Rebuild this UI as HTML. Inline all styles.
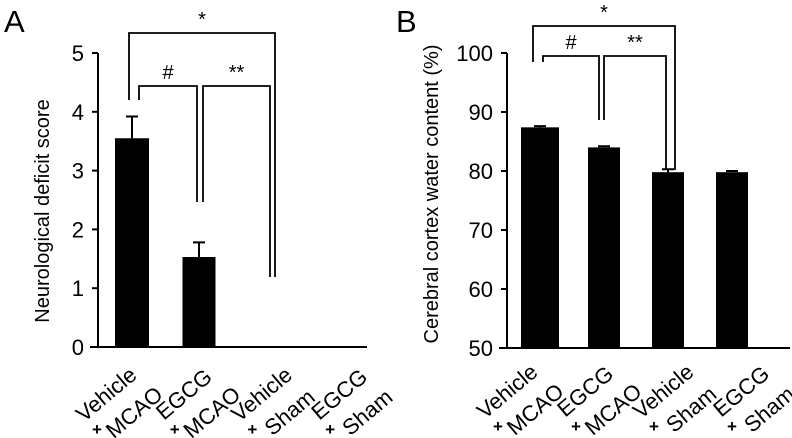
<!DOCTYPE html>
<html><head><meta charset="utf-8"><style>
html,body{margin:0;padding:0;background:#fff;}
svg{display:block;font-family:"Liberation Sans",Arial,sans-serif;}
</style></head><body>
<svg id="c" width="792" height="438" viewBox="0 0 792 438" xmlns="http://www.w3.org/2000/svg"></svg>
<script>
const categories = [["Vehicle","MCAO"],["EGCG","MCAO"],["Vehicle","Sham"],["EGCG","Sham"]];
const scoreValues = [3.55, 1.53, 0, 0];
const scoreErrors = [0.37, 0.25, 0, 0];
const waterValues = [87.4, 84.0, 79.8, 79.8];
const waterErrors = [0.2, 0.2, 0.5, 0.2];
const scoreTicks = [0,1,2,3,4,5];
const waterTicks = [50,60,70,80,90,100];

const NS = "http://www.w3.org/2000/svg";
const svg = document.getElementById('c');
function el(tag, attrs, parent, text){
  const e = document.createElementNS(NS, tag);
  for (const k in attrs) e.setAttribute(k, attrs[k]);
  if (text !== undefined) e.textContent = text;
  (parent || svg).appendChild(e);
  return e;
}

function panel(cfg){
  const g = el('g', {});
  
  
  const y = v => cfg.y0 - (v - cfg.vmin) / (cfg.vmax - cfg.vmin) * (cfg.y0 - cfg.y1);
  const x = i => cfg.c0 + i * cfg.step;
  const lx = i => cfg.l0 + i * cfg.lstep;
  const L = el('text', {x: cfg.letterX, y: 32, 'font-size': 31}, g, cfg.letter);
  
  
  const ya = el('line', {x1: cfg.ax, x2: cfg.ax, y1: y(cfg.vmin), y2: y(cfg.vmax), stroke: '#000', 'stroke-width': 2}, g);
  
  
  const xa = el('line', {x1: cfg.ax - 8, x2: cfg.xEnd, y1: y(cfg.vmin), y2: y(cfg.vmin), stroke: '#000', 'stroke-width': 2}, g);
  
  
  cfg.ticks.forEach(t => {
    const tl = el('line', {x1: cfg.ax - 6, x2: cfg.ax, y1: y(t), y2: y(t), stroke: '#000', 'stroke-width': 2}, g);
    
    
    const tt = el('text', {x: cfg.ax - 14, y: y(t) + 8, 'font-size': 22, 'text-anchor': 'end'}, g, t);
    
    
  });
  const yt = el('text', {transform: `translate(${cfg.titleX},${cfg.titleY}) rotate(-90)`, 'font-size': 20, 'text-anchor': 'middle'}, g, cfg.title);
  
  
  cfg.values.forEach((v, i) => {
    const cx = x(i), w = cfg.bw[i];
    if (v > cfg.vmin) {
      const top = y(v + cfg.errors[i]);
      const eb = el('path', {d: `M${cx} ${y(v)} V${top} M${cx-6} ${top} H${cx+6}`, stroke: '#000', 'stroke-width': 2, fill: 'none'}, g);
      
      
      const r = el('rect', {x: cx - w/2, y: y(v), width: w, height: y(cfg.vmin) - y(v), fill: '#000'}, g);
      
      
    }
    const px = lx(i), py = cfg.lblY;
    const lg = el('g', {'font-size': 22}, g);
    
    
    el('text', {transform: `translate(${px+14},${py-30}) rotate(-40)`, 'text-anchor': 'middle'}, lg, categories[i][0]);
    el('text', {transform: `translate(${px+42},${py-12}) rotate(-40)`, 'text-anchor': 'middle'}, lg, categories[i][1]);
    el('text', {x: px, y: py + 5, 'font-size': 17, 'font-weight': 'bold', 'text-anchor': 'middle'}, lg, '+');
  });
  cfg.brackets.forEach(b => {
    const p = el('path', {d: `M${b.x1} ${b.l1} V${b.y} H${b.x2} V${b.l2}`, stroke: '#000', 'stroke-width': 1.8, fill: 'none'}, g);
    
    
    const t = el('text', {x: (b.x1+b.x2)/2, y: b.y - 7, 'font-size': 20, 'text-anchor': 'middle'}, g, b.label);
    
    
  });
}

panel({name: 'panel-a', letter: 'A', letterX: 4, ax: 98, xEnd: 367, vmin: 0, vmax: 5, y0: 347, y1: 53,
  c0: 132, step: 67, l0: 97, lstep: 77.7, bw: [34,33,34,34], values: scoreValues, errors: scoreErrors, ticks: scoreTicks,
  title: 'Neurological deficit score', titleX: 49, titleY: 211, lblY: 430,
  brackets: [
    {x1: 129, x2: 275, y: 33, l1: 100, l2: 277, label: '*'},
    {x1: 139, x2: 197, y: 86, l1: 100, l2: 202, label: '#'},
    {x1: 203, x2: 270, y: 86, l1: 202, l2: 277, label: '**'}
  ]});

panel({name: 'panel-b', letter: 'B', letterX: 396, ax: 507, xEnd: 790, vmin: 50, vmax: 100, y0: 348, y1: 53,
  c0: 540, step: 64, l0: 498, lstep: 78, bw: [38,32,32,32], values: waterValues, errors: waterErrors, ticks: waterTicks,
  title: 'Cerebral cortex water content (%)', titleX: 438, titleY: 194, lblY: 427,
  brackets: [
    {x1: 533, x2: 675, y: 26, l1: 62, l2: 170, label: '*'},
    {x1: 543, x2: 599, y: 56, l1: 62, l2: 120, label: '#'},
    {x1: 604, x2: 666, y: 56, l1: 120, l2: 170, label: '**'}
  ]});
</script>
</body></html>
